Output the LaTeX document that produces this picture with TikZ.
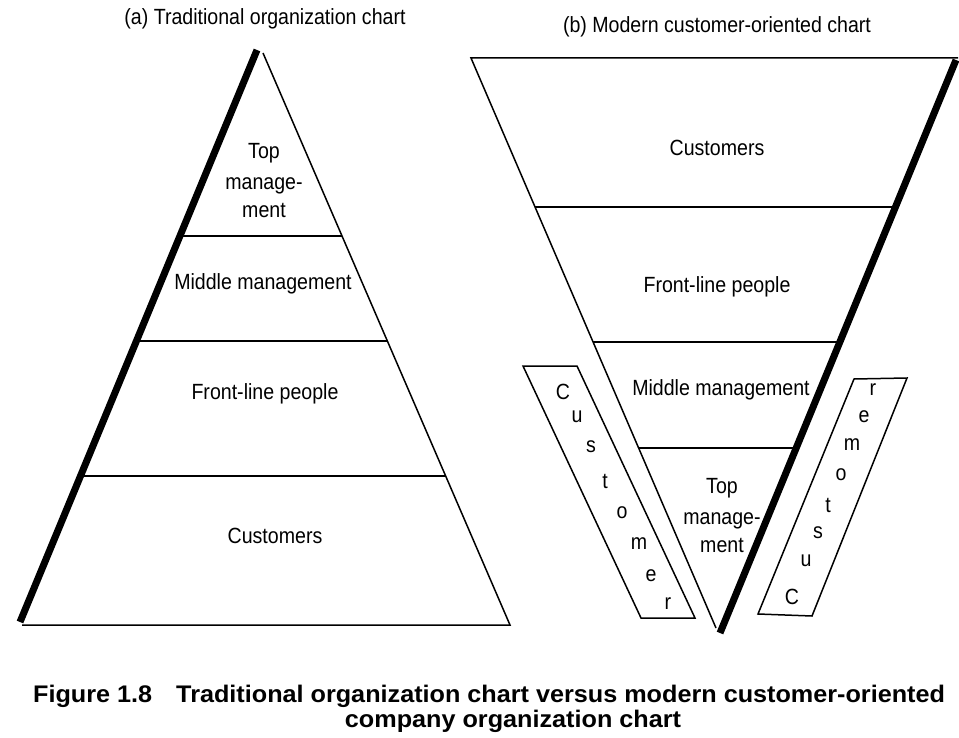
\documentclass[tikz,border=0pt]{standalone}
\usepackage{fontspec}
\setmainfont{Liberation Sans}[FakeStretch=0.89]
\newfontfamily\capfont{Liberation Sans}[FakeStretch=1.05]
\begin{document}
\begin{tikzpicture}[x=1pt,y=-1pt,
  lab/.style={font=\fontsize{22}{29}\selectfont, inner sep=0pt, anchor=base},
  let/.style={font=\fontsize{22}{29}\selectfont, inner sep=0pt},
  capt/.style={font=\capfont\bfseries\fontsize{24}{28}\selectfont, inner sep=0pt, anchor=base},
  thinedge/.style={line width=1.5pt, line join=miter},
  thickedge/.style={line width=7pt}]
\useasboundingbox (0,0) rectangle (959,738);
\fill[white] (0,0) rectangle (959,738);

% ---------- (a) traditional ----------
\coordinate (aT) at (263,53);
\coordinate (aTk) at (257,50);
\coordinate (aBL) at (20,622);
\coordinate (aBL2) at (22,625);
\coordinate (aBR) at (510,625);
\draw[thinedge] (aT) -- (aBR) -- (aBL2);
\draw[thickedge] (aTk) -- (aBL);
\coordinate (a1l) at (180,236); \coordinate (a1r) at (342,236);
\coordinate (a2l) at (137,341); \coordinate (a2r) at (387,341);
\coordinate (a3l) at (81,476);  \coordinate (a3r) at (446,476);
\draw[thinedge] (a1l) -- (a1r);
\draw[thinedge] (a2l) -- (a2r);
\draw[thinedge] (a3l) -- (a3r);

\node[lab] (titA) at (265,25) {(a) Traditional organization chart};
\node[lab] (aTop1) at (264,159) {Top};
\node[lab] (aTop2) at (264,190) {manage-};
\node[lab] (aTop3) at (264,218) {ment};
\node[lab] (aMid) at (263,290) {Middle management};
\node[lab] (aFront) at (265,399) {Front-line people};
\node[lab] (aCust) at (275,543) {Customers};

% ---------- (b) modern ----------
\coordinate (bTL) at (471,58);
\coordinate (bTR) at (958,58);
\coordinate (bTRk) at (956,60);
\coordinate (bB) at (716,628);
\coordinate (bBk) at (720,633);
\draw[thinedge] (bTR) -- (bTL) -- (bB);
\draw[thickedge] (bTRk) -- (bBk);
\coordinate (b1l) at (535,207); \coordinate (b1r) at (895,207);
\coordinate (b2l) at (593,342); \coordinate (b2r) at (839,342);
\coordinate (b3l) at (639,448); \coordinate (b3r) at (795,448);
\draw[thinedge] (b1l) -- (b1r);
\draw[thinedge] (b2l) -- (b2r);
\draw[thinedge] (b3l) -- (b3r);

\node[lab] (titB) at (717,33) {(b) Modern customer-oriented chart};
\node[lab] (bCust) at (717,156) {Customers};
\node[lab] (bFront) at (717,293) {Front-line people};
\node[lab] (bMid) at (721,395) {Middle management};
\node[lab] (bTop1) at (722,493) {Top};
\node[lab] (bTop2) at (722,524) {manage-};
\node[lab] (bTop3) at (722,552) {ment};

% ---------- side bands ----------
\coordinate (p1a) at (523,366); \coordinate (p1b) at (577,366);
\coordinate (p1c) at (695,618); \coordinate (p1d) at (641,618);
\draw[thinedge] (p1a) -- (p1b) -- (p1c) -- (p1d) -- cycle;
\node[let] (l1) at (563,392) {C};
\node[let] (l2) at (577,417) {u};
\node[let] (l3) at (591,447) {s};
\node[let] (l4) at (605,481) {t};
\node[let] (l5) at (622,513) {o};
\node[let] (l6) at (639,544) {m};
\node[let] (l7) at (651,576) {e};
\node[let] (l8) at (668,604) {r};

\coordinate (p2a) at (854,379); \coordinate (p2b) at (907,378);
\coordinate (p2c) at (812,616); \coordinate (p2d) at (758,614);
\draw[thinedge] (p2a) -- (p2b) -- (p2c) -- (p2d) -- cycle;
\node[let] (r1) at (873,390) {r};
\node[let] (r2) at (864,417) {e};
\node[let] (r3) at (852,445) {m};
\node[let] (r4) at (841,475) {o};
\node[let] (r5) at (828,505) {t};
\node[let] (r6) at (818,533) {s};
\node[let] (r7) at (806,561) {u};
\node[let] (r8) at (792,597) {C};

% ---------- caption ----------
\node[capt, anchor=base west] (cap1) at (33,702) {Figure 1.8\quad Traditional organization chart versus modern customer-oriented};
\node[capt] (cap2) at (513,727) {company organization chart};
\end{tikzpicture}
\end{document}
